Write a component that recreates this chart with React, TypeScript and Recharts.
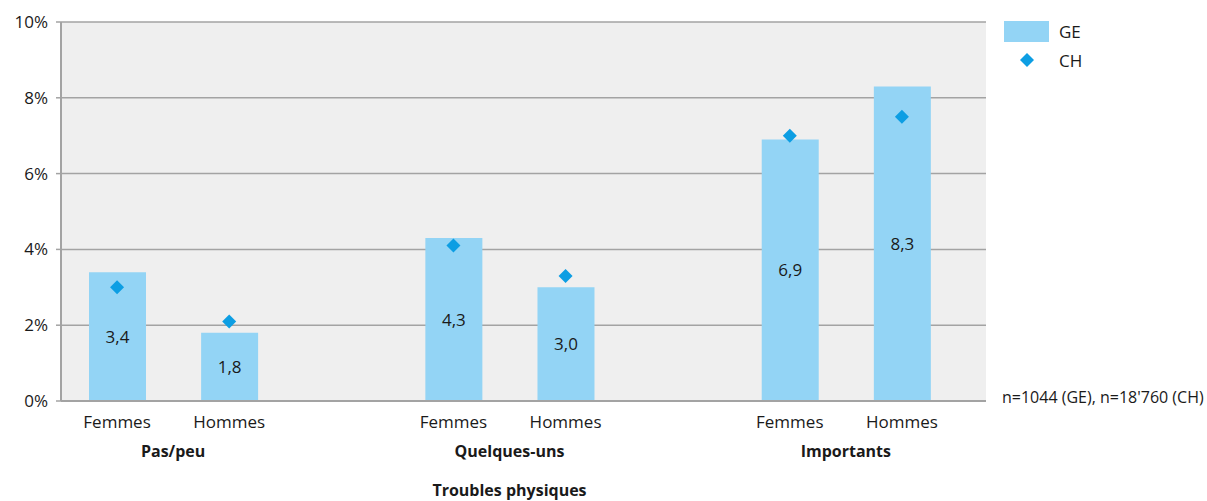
import { ComposedChart, Bar, Scatter, XAxis, YAxis, CartesianGrid, LabelList } from "recharts";

const sexes = ["Femmes", "Hommes", "Femmes", "Hommes", "Femmes", "Hommes"];
const groups = ["Pas/peu", "Quelques-uns", "Importants"];
const geValues = [3.4, 1.8, 4.3, 3.0, 6.9, 8.3];
const chValues = [3.0, 2.1, 4.1, 3.3, 7.0, 7.5];
const yTicks = [0, 2, 4, 6, 8, 10];
const axisTitle = "Troubles physiques";
const note = "n=1044 (GE), n=18'760 (CH)";

const FONT = "'Open Sans', sans-serif";
const BAR = "#93d4f5";
const DOT = "#0d9ee3";
const GRID = "#a3a3a3";
const TEXT = "#1a1a1a";

// each group takes 3 slots: Femmes, Hommes, empty
const data = sexes.map((s, i) => ({
  x: Math.floor(i / 2) * 3 + (i % 2),
  sex: s,
  ge: geValues[i],
  ch: chValues[i],
}));
const sexTicks = data.map((d) => d.x);
const groupTicks = groups.map((_, g) => g * 3 + 0.5);
const domain: [number, number] = [-0.5, 7.75];

const fmt = (v: number) => v.toFixed(1).replace(".", ",");

const Diamond = (props: any) => {
  const { cx, cy } = props;
  const r = 7;
  return <polygon points={`${cx},${cy - r} ${cx + r},${cy} ${cx},${cy + r} ${cx - r},${cy}`} fill={DOT} />;
};

const LegendBox = () => (
  <div style={{ position: "absolute", left: 1004, top: 20, fontFamily: FONT, fontSize: 17, color: TEXT }}>
    <div style={{ display: "flex", alignItems: "center", height: 22 }}>
      <span style={{ width: 45, height: 21, background: BAR, display: "inline-block" }} />
      <span style={{ marginLeft: 10 }}>GE</span>
    </div>
    <div style={{ display: "flex", alignItems: "center", height: 30, marginTop: 3 }}>
      <span style={{ width: 45, display: "inline-flex", justifyContent: "center" }}>
        <svg width={14} height={14}>
          <polygon points="7,0 14,7 7,14 0,7" fill={DOT} />
        </svg>
      </span>
      <span style={{ marginLeft: 10 }}>CH</span>
    </div>
  </div>
);

export default function App() {
  return (
    <div style={{ position: "absolute", left: 0, top: 0, width: 1207, height: 501, background: "#fff" }}>
      <ComposedChart
        width={1207}
        height={501}
        data={data}
        margin={{ top: 22, right: 221, bottom: 0, left: 0 }}
        style={{ fontFamily: FONT }}
      >
        <CartesianGrid fill="#efefef" vertical={false} stroke={GRID} strokeWidth={1.5} yAxisId="left" xAxisId="a" />
        <XAxis
          xAxisId="a"
          dataKey="x"
          type="number"
          domain={domain}
          allowDataOverflow
          ticks={sexTicks}
          interval={0}
          height={38}
          tickLine={false}
          tickSize={0}
          tickMargin={15}
          axisLine={{ stroke: GRID, strokeWidth: 2 }}
          tickFormatter={(v: number) => data.find((d) => d.x === v)?.sex ?? ""}
          tick={{ fill: TEXT, fontSize: 17 }}
        />
        <XAxis
          xAxisId="b"
          dataKey="x"
          type="number"
          domain={domain}
          allowDataOverflow
          ticks={groupTicks}
          interval={0}
          height={38}
          tickLine={false}
          tickSize={0}
          tickMargin={7}
          axisLine={false}
          tickFormatter={(v: number) => groups[Math.round((v - 0.5) / 3)]}
          tick={{ fill: TEXT, fontSize: 16, fontWeight: 700 }}
        />
        <XAxis
          xAxisId="c"
          dataKey="x"
          type="number"
          domain={domain}
          allowDataOverflow
          ticks={[3.5]}
          interval={0}
          height={24}
          tickLine={false}
          tickSize={0}
          tickMargin={8}
          axisLine={false}
          tickFormatter={() => axisTitle}
          tick={{ fill: TEXT, fontSize: 16, fontWeight: 700 }}
        />
        <YAxis
          yAxisId="left"
          domain={[0, 10]}
          ticks={yTicks}
          interval={0}
          width={61}
          tickSize={5}
          tickMargin={8}
          axisLine={{ stroke: GRID, strokeWidth: 2 }}
          tickLine={{ stroke: GRID, strokeWidth: 1.5 }}
          tickFormatter={(v: number) => `${v}%`}
          tick={{ fill: TEXT, fontSize: 17 }}
        />
        <YAxis
          yAxisId="right"
          orientation="right"
          domain={[0, 10]}
          width={0}
          tick={false}
          tickLine={false}
          axisLine={{ stroke: GRID, strokeWidth: 2 }}
        />
        <Bar dataKey="ge" name="GE" xAxisId="a" yAxisId="left" fill={BAR} barSize={57} isAnimationActive={false}>
          <LabelList dataKey="ge" position="center" formatter={(v: any) => fmt(Number(v))} fill={TEXT} fontSize={17} />
        </Bar>
        <Scatter dataKey="ch" name="CH" xAxisId="a" yAxisId="left" shape={<Diamond />} isAnimationActive={false} />
      </ComposedChart>
      <LegendBox />
      <div
        style={{
          position: "absolute",
          left: 1002,
          top: 386,
          fontFamily: FONT,
          fontSize: 16,
          color: TEXT,
          whiteSpace: "nowrap",
        }}
      >
        {note}
      </div>
    </div>
  );
}
